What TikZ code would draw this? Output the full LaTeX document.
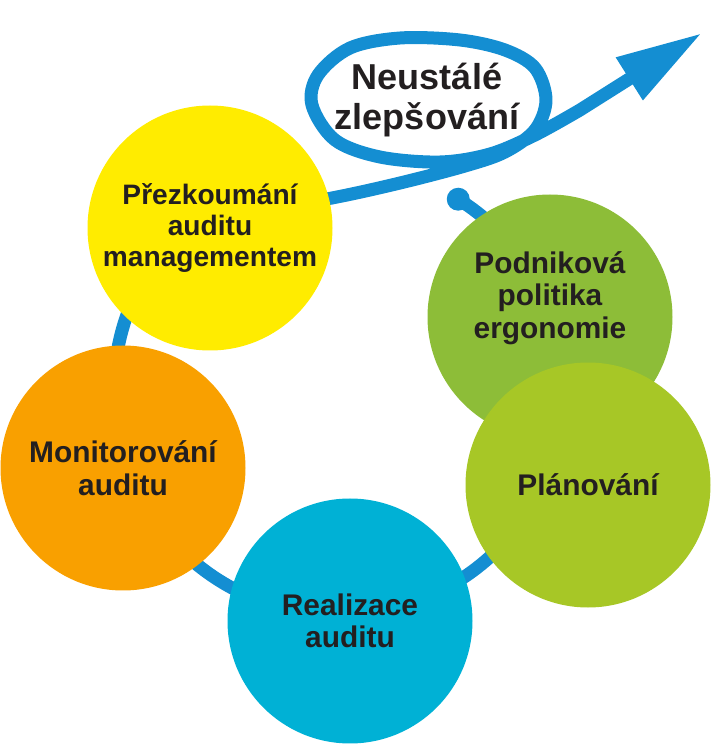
\documentclass[tikz,border=0pt]{standalone}
\usepackage{fontspec}
\setmainfont{Liberation Sans}
\usetikzlibrary{arrows.meta}

\definecolor{zluta}{RGB}{255,236,0}
\definecolor{oranzova}{RGB}{249,160,0}
\definecolor{tyrkys}{RGB}{0,177,213}
\definecolor{zelena}{RGB}{141,189,56}
\definecolor{svetlezelena}{RGB}{167,199,38}
\definecolor{modra}{RGB}{20,142,210}
\definecolor{tmava}{RGB}{35,31,32}

\begin{document}
\begin{tikzpicture}[
        krug/.style={circle, minimum size=4.9cm, inner sep=0pt, align=center, text=tmava,
            font=\bfseries\fontsize{17}{18.5}\selectfont},
        petlja/.style={draw=modra, line width=0.26cm, line cap=round, line join=round}]
        \useasboundingbox (0,0) rectangle (14.22,14.88);

        \coordinate (tecka) at (9.165,10.896);
        \coordinate (hrot) at (14.04,14.22);

        % kruh a smycka
        \draw[petlja, -{Triangle[length=1.72cm, width=0.94cm]}] (tecka)
            arc[start angle=58, end angle=-220, radius=4.5]
            -- plot[smooth, tension=0.55] coordinates {(3.333,9.973) (5.00,10.64) (6.64,10.92)
                (8.00,11.22) (9.30,11.56) (10.10,11.84) (10.70,12.28) (10.92,12.88) (10.70,13.52)
                (10.10,13.88) (9.20,14.08) (8.00,14.12) (7.00,13.92) (6.36,13.38) (6.24,12.78)
                (6.70,12.08) (7.60,11.74) (8.80,11.64) (9.80,11.80) (10.70,12.18) (11.60,12.68)}
            -- (hrot);
        \fill[modra] (tecka) circle (0.23);

        \node[krug, fill=zelena] (politika) at (11.00,8.54) {};
        \node[krug, fill=svetlezelena] (planovani) at (11.76,5.18) {Plánování};
        \node[krug, fill=tyrkys] (realizace) at (7.00,2.46) {Realizace\\auditu};
        \node[krug, fill=oranzova] (monitorovani) at (2.46,5.52) {Monitorování\\auditu};
        \node[krug, fill=zluta, font=\bfseries\fontsize{16}{17.6}\selectfont] (prezkoumani)
            at (4.20,10.32) {Přezkoumání\\auditu\\managementem};

        \node[align=center, text=tmava, font=\bfseries\fontsize{17}{18.5}\selectfont] (politikatext)
            at ([yshift=0.38cm]politika.center) {Podniková\\politika\\ergonomie};
        \node[align=center, text=tmava, font=\bfseries\fontsize{20.5}{22.7}\selectfont] (zlepsovani)
            at (8.54,12.88) {Neustálé\\zlepšování};
\end{tikzpicture}
\end{document}
